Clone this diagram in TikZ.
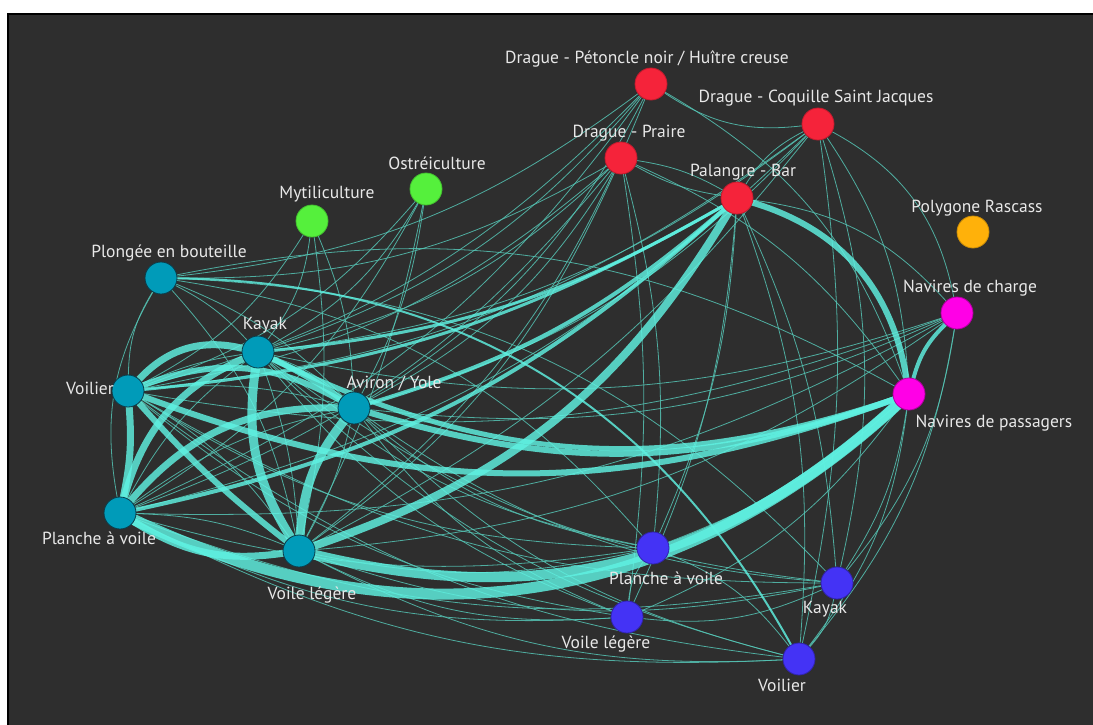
\documentclass[tikz,border=0pt]{standalone}
\usepackage{fontspec}
\setmainfont{PT Sans}
\pgfdeclarelayer{bgl}
\pgfdeclarelayer{edgel}
\pgfsetlayers{bgl,edgel,main}
\definecolor{bgc}{HTML}{2E2E2E}
\definecolor{tealc}{HTML}{009BB9}
\definecolor{tealb}{HTML}{0B3D4A}
\definecolor{redc}{HTML}{F5233A}
\definecolor{greenc}{HTML}{55F03C}
\definecolor{orangec}{HTML}{FFB10A}
\definecolor{magc}{HTML}{FF00E6}
\definecolor{bluec}{HTML}{4433F5}
\definecolor{bigc}{HTML}{5FF2E2}
\definecolor{finec}{HTML}{55C4B4}
\definecolor{txtc}{HTML}{E8E8E8}
\tikzset{
  vtx/.style={circle, minimum size=32pt, inner sep=0pt, line width=0.8pt},
  tealv/.style={vtx, fill=tealc, draw=tealb},
  redv/.style={vtx, fill=redc, draw=redc!80!black},
  greenv/.style={vtx, fill=greenc, draw=greenc!80!black},
  orangev/.style={vtx, fill=orangec, draw=orangec!80!black},
  magv/.style={vtx, fill=magc, draw=magc!70!black},
  bluev/.style={vtx, fill=bluec, draw=bluec!70!black},
  lbl/.style={text=txtc, font=\fontsize{17.5}{20}\selectfont, inner sep=0pt},
  fineedge/.style={draw=finec, line width=0.8pt, opacity=0.85},
  bigedge/.style={draw=bigc, opacity=0.82, line cap=round},
}
\begin{document}
\begin{tikzpicture}[x=1pt,y=-1pt]
\useasboundingbox (0,0) rectangle (1093,724);
\begin{pgfonlayer}{bgl}
\fill[white] (0,0) rectangle (1093,724);
\draw[fill=bgc, draw=black, line width=1.5pt] (8,14) rectangle (1096,728);
\end{pgfonlayer}
% nodes
\node[redv] (dpn) at (651,84) {};
\node[redv] (dcsj) at (818,124) {};
\node[redv] (dp) at (621,158) {};
\node[redv] (pb) at (737,198) {};
\node[greenv] (ost) at (426,189) {};
\node[greenv] (myt) at (312,221) {};
\node[orangev] (pr) at (973,232) {};
\node[tealv] (plb) at (161,278) {};
\node[magv] (nc) at (957,313) {};
\node[tealv] (tk) at (258,352) {};
\node[tealv] (tv) at (128,391) {};
\node[tealv] (ay) at (354,408) {};
\node[magv] (np) at (909,394) {};
\node[tealv] (tp) at (120,513) {};
\node[tealv] (tl) at (299,551) {};
\node[bluev] (bp) at (653,548) {};
\node[bluev] (bk) at (837,583) {};
\node[bluev] (bl) at (627,617) {};
\node[bluev] (bv) at (799,659) {};
% labels
\node[lbl] (l-dpn) at (647,59) {Drague - Pétoncle noir / Huître creuse};
\node[lbl] (l-dcsj) at (816,98) {Drague - Coquille Saint Jacques};
\node[lbl] (l-dp) at (629,133) {Drague - Praire};
\node[lbl] (l-pb) at (743,172) {Palangre - Bar};
\node[lbl] (l-ost) at (437,163) {Ostréiculture};
\node[lbl] (l-myt) at (327,194) {Mytiliculture};
\node[lbl] (l-pr) at (977,208) {Polygone Rascass};
\node[lbl] (l-plb) at (169,253) {Plongée en bouteille};
\node[lbl] (l-nc) at (970,288) {Navires de charge};
\node[lbl] (l-tk) at (265,325) {Kayak};
\node[lbl] (l-tv) at (90,388) {Voilier};
\node[lbl] (l-ay) at (394,383) {Aviron / Yole};
\node[lbl] (l-np) at (994,423) {Navires de passagers};
\node[lbl] (l-tp) at (99,538) {Planche à voile};
\node[lbl] (l-tl) at (312,595) {Voile légère};
\node[lbl] (l-bp) at (666,578) {Planche à voile};
\node[lbl] (l-bk) at (825,609) {Kayak};
\node[lbl] (l-bl) at (606,644) {Voile légère};
\node[lbl] (l-bv) at (782,685) {Voilier};
% edges
\begin{pgfonlayer}{edgel}
\foreach \a/\b/\t in {
 dpn/tk/15, dpn/tv/15, dpn/ay/15, dpn/tp/15, dpn/tl/15, dpn/plb/15,
 dp/tk/15, dp/tv/15, dp/ay/15, dp/tp/15, dp/tl/15, dp/plb/15,
 dcsj/tk/15, dcsj/ay/15, dcsj/tl/12, dcsj/tp/15, dcsj/tv/15,
 dcsj/dpn/20, dp/pb/10, pb/dp/10, pb/dcsj/15,
 dpn/np/20, dcsj/np/15, dcsj/nc/25, dcsj/bk/15, dcsj/bv/10,
 pb/bk/10, pb/bv/12, pb/bp/10, pb/nc/20, pb/bl/10,
 dp/bp/10, dp/bl/8, dp/np/15,
 tp/plb/20, tv/plb/15, plb/tk/10, plb/ay/12, plb/tl/15, plb/bp/20, plb/bk/22, plb/np/20,
 myt/tk/15, myt/tv/15, myt/ay/10, myt/tl/10,
 ost/tk/15, ost/tv/15, ost/ay/10, ost/tl/8, ost/tp/15,
 bp/tv/15, bp/tk/15, bp/ay/15, bp/tp/12, bp/tl/12,
 bk/tv/15, bk/tk/15, bk/ay/15, bk/tp/15, bk/tl/15,
 bl/tv/15, bl/tk/15, bl/ay/15, bl/tp/15, bl/tl/15,
 bv/tv/15, bv/tk/15, bv/ay/15, bv/tp/15, bv/tl/15,
 nc/tv/15, nc/tk/15, nc/ay/15, nc/tp/15, nc/tl/15,
 np/bk/12, np/bv/15, nc/bv/15, nc/bk/15, np/bp/10, np/bl/15,
 bl/bp/15, bp/bv/15, bk/bv/15, bk/bl/15,
 tv/tk/8, tk/ay/12, tv/ay/10, tp/tl/10, tv/tl/12, tk/tl/8, ay/tl/8, tp/tk/12, tp/ay/12
}{
 \draw[fineedge] (\a) to[bend left=\t] (\b);
}
\foreach \a/\b/\t/\w in {
 tv/tk/30/7, tv/ay/25/6, tk/ay/5/6, tl/tk/20/9, tl/ay/17/9,
 tv/tp/8/7, tp/tk/25/7, tp/ay/25/7, tl/tp/20/7,
 np/tp/34/11, np/tl/28/10, np/tv/20/6, np/tk/22/5, np/ay/18/6,
 pb/np/32/6, pb/tl/20/8, pb/tp/15/4, pb/ay/12/4, pb/tk/12/3, pb/tv/12/3,
 np/nc/15/4, plb/bv/30/2
}{
 \draw[bigedge, line width=\w pt] (\a) to[bend left=\t] (\b);
}
\draw[bigedge, line width=6pt] (tv) to[bend right=5] (tl);
\end{pgfonlayer}
\end{tikzpicture}
\end{document}
